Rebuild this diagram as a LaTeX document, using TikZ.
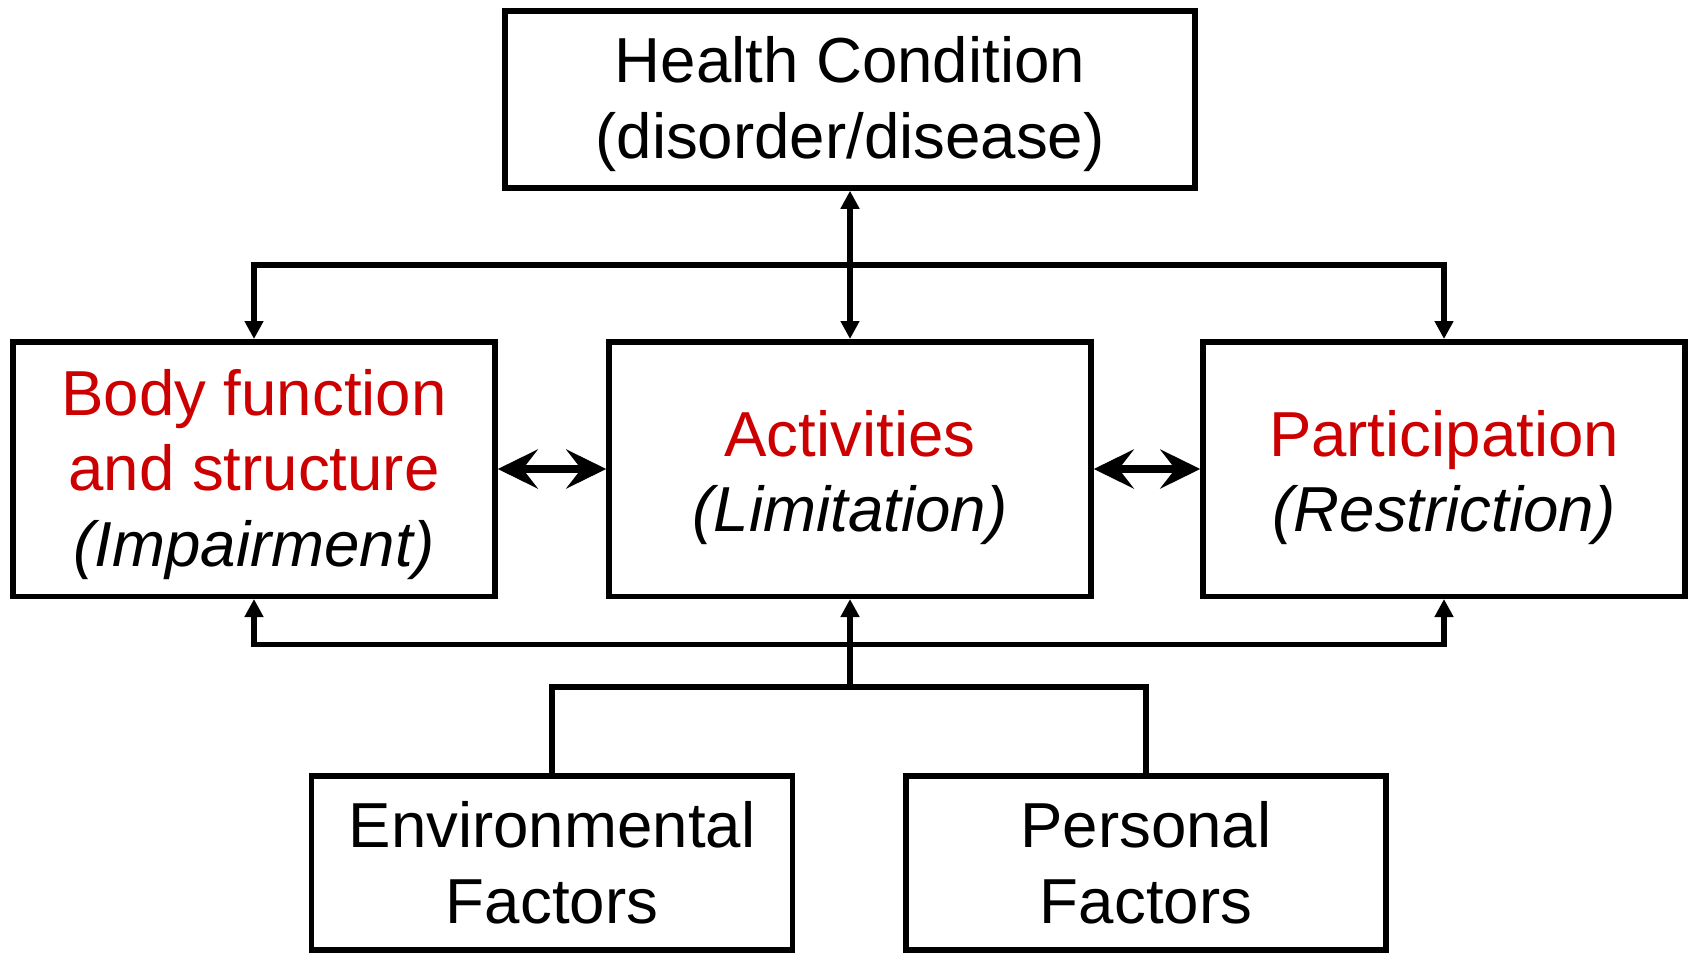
\documentclass[tikz,border=0pt]{standalone}
\usepackage{fontspec}
\setmainfont{Liberation Sans}
\usetikzlibrary{arrows.meta}
\definecolor{icfred}{RGB}{204,0,0}
\tikzset{
  box/.style={draw, line width=2.75pt, minimum width=241pt, inner sep=0pt},
  txt/.style={align=center, font=\fontsize{31.8}{37.8}\selectfont, inner sep=0pt},
  conn/.style={line width=2.75pt},
  tip/.style={conn, -{Triangle[length=9pt,width=9pt]}},
  bitip/.style={conn, {Triangle[length=9pt,width=9pt]}-{Triangle[length=9pt,width=9pt]}},
  dbl/.style={line width=3.6pt, {Stealth[length=20pt,width=19.5pt,inset=7.5pt]}-{Stealth[length=20pt,width=19.5pt,inset=7.5pt]}}
}
\begin{document}
\begin{tikzpicture}[x=0.5pt,y=-0.5pt]
\useasboundingbox (0,0) rectangle (1689,953);
% boxes
\node[box, minimum width=345pt, minimum height=88.5pt] (hc) at (850,99.5) {};
\node[box, minimum height=127.25pt] (bfs) at (254,469) {};
\node[box, minimum height=127.25pt] (act) at (850,469) {};
\node[box, minimum height=127.25pt] (par) at (1444,469) {};
\node[box, minimum width=240.5pt, minimum height=87pt] (env) at (552,863) {};
\node[box, minimum width=240pt, minimum height=87pt] (pf) at (1146,863) {};
% texts
\node[txt] (hcT) at ([shift={(0,4.5)}]hc.center) {Health Condition\\(disorder/disease)};
\node[txt] (bfsT) at ([shift={(0,5.5)}]bfs.center)
  {\textcolor{icfred}{Body function}\\\textcolor{icfred}{and structure}\\\textit{(Impairment)}};
\node[txt] (actT) at ([shift={(0,8.5)}]act.center)
  {\textcolor{icfred}{Activities}\\\textit{(Limitation)}};
\node[txt] (parT) at ([shift={(0,8.5)}]par.center)
  {\textcolor{icfred}{Participation}\\\textit{(Restriction)}};
\node[txt] (envT) at (env.center) {Environmental\\Factors};
\node[txt] (pfT) at (pf.center) {Personal\\Factors};
% connectors
\coordinate (tj) at (850,265);
\coordinate (bj) at (850,644.5);
\coordinate (fj) at (850,687);
\draw[bitip] (hc.south) -- (act.north);
\draw[tip] (tj) -| (bfs.north);
\draw[tip] (tj) -| (par.north);
\draw[tip] (bj) -| (bfs.south);
\draw[tip] (bj) -| (par.south);
\draw[conn] (env.north) |- (fj) -| (pf.north);
\draw[tip] (fj) -- (act.south);
\draw[dbl] (bfs.east) -- (act.west);
\draw[dbl] (act.east) -- (par.west);
\end{tikzpicture}
\end{document}
